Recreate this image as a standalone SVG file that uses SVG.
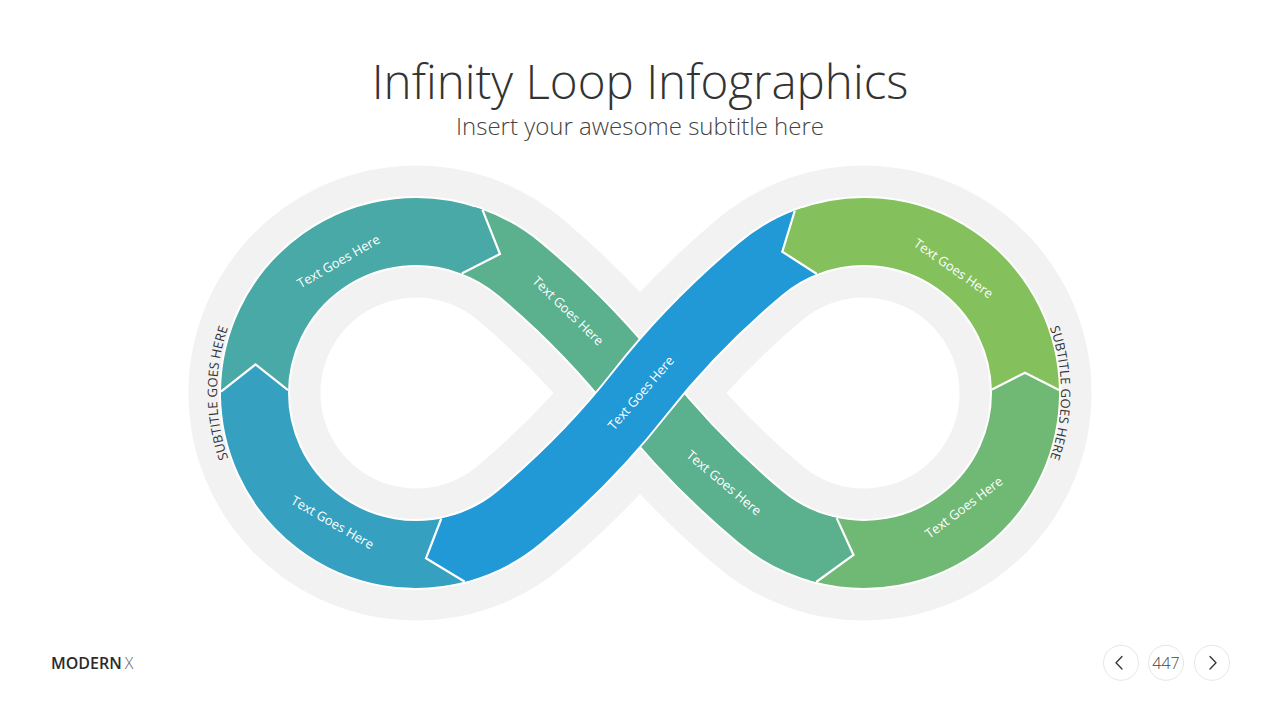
<svg xmlns="http://www.w3.org/2000/svg" width="1280" height="720" viewBox="0 0 1280 720">
<defs>
<style>
.ff{font-family:"Open Sans","Noto Sans","Liberation Sans",sans-serif;}
.lbl{font-family:"Open Sans","Noto Sans","Liberation Sans",sans-serif;font-size:13px;fill:#ffffff;text-anchor:middle;}
.seg{fill:none;stroke-width:67;stroke-linecap:butt;}
.wout{fill:none;stroke:#ffffff;stroke-width:71;stroke-linecap:butt;}
.wline{fill:none;stroke:#ffffff;stroke-width:2.2;stroke-linejoin:miter;}
.sub{font-family:"Open Sans","Noto Sans","Liberation Sans",sans-serif;font-size:13px;fill:#333333;letter-spacing:0.2px;}
.nav{fill:#ffffff;stroke:#e6e6e6;stroke-width:1;}
.chev{fill:none;stroke:#333333;stroke-width:1.3;stroke-linecap:round;stroke-linejoin:round;}
</style>
<path id="loop" d="M 640 393 C 675.1 437.9 716.5 480.0 760.2 516.7 A 161.5 161.5 0 1 0 760.2 269.3 C 716.5 306.0 675.1 348.1 640 393 C 604.9 437.9 563.5 480.0 519.8 516.7 A 161.5 161.5 0 1 1 519.8 269.3 C 563.5 306.0 604.9 348.1 640 393 Z"/>
<path id="arcL" d="M 263.6 520.9 A 199 199 0 0 1 263.6 265.1"/>
<path id="arcR" d="M 1014.9 266.4 A 197 197 0 0 1 1014.9 519.6"/>
</defs>
<rect x="0" y="0" width="1280" height="720" fill="#ffffff"/>

<g id="title">
<text class="ff" x="640" y="99" font-size="47.5" font-weight="300" fill="#333333" text-anchor="middle">Infinity Loop Infographics</text>
<text class="ff" x="640" y="135" font-size="24" font-weight="300" fill="#444444" text-anchor="middle">Insert your awesome subtitle here</text>
</g>

<g id="background-band">
<use href="#loop" fill="none" stroke="#f2f2f2" stroke-width="132"/>
<use href="#loop" class="wout"/>
</g>

<g id="connectors">
<!-- flow order: left-bottom, left-top, green, right-bottom, right-top, blue -->
</g>

<g id="seg-left-bottom">
<path class="seg" stroke="#35a0c0" d="M 457.8 549.0 A 161.5 161.5 0 0 1 254.5 393"/>
</g>
<g id="seg-left-top">
<path class="seg" stroke="#48a9a6" d="M 254.5 393 A 161.5 161.5 0 0 1 469.9 240.8"/>
</g>
<g id="seg-green">
<path class="seg" stroke="#5bb08e" d="M 469.9 240.8 A 161.5 161.5 0 0 1 519.8 269.3 C 563.5 306.0 604.9 348.1 640 393 C 675.1 437.9 716.5 480.0 760.2 516.7 A 161.5 161.5 0 0 0 823.6 549.3"/>
</g>
<g id="seg-right-bottom">
<path class="seg" stroke="#6fb974" d="M 823.6 549.3 A 161.5 161.5 0 0 0 1025.5 391.6"/>
</g>
<g id="seg-right-top">
<path class="seg" stroke="#84c15c" d="M 1025.5 391.6 A 161.5 161.5 0 0 0 807.4 241.7"/>
</g>
<g id="seg-blue">
<path class="wout" d="M 807.4 241.7 A 161.5 161.5 0 0 0 760.2 269.3 C 716.5 306.0 675.1 348.1 640 393 C 604.9 437.9 563.5 480.0 519.8 516.7 A 161.5 161.5 0 0 1 457.8 549.0"/>
<path class="seg" stroke="#2199d6" d="M 807.4 241.7 A 161.5 161.5 0 0 0 760.2 269.3 C 716.5 306.0 675.1 348.1 640 393 C 604.9 437.9 563.5 480.0 519.8 516.7 A 161.5 161.5 0 0 1 457.8 549.0"/>
</g>

<g id="arrowheads">
<polygon fill="#35a0c0" points="288.1,397.5 221.1,399.8 221.0,391.6 255.5,364.5 288.0,390.1"/>
<polyline class="wline" points="221.0,391.6 255.5,364.5 288.0,390.1"/>
<polygon fill="#48a9a6" points="454.5,270.9 474.6,207.0 482.4,209.6 500,254 461.7,273.4"/>
<polyline class="wline" points="482.4,209.6 500,254 461.7,273.4"/>
<polygon fill="#5bb08e" points="827.6,515.7 808.6,580.0 816.2,582.0 853.5,555 836.7,518.1"/>
<polyline class="wline" points="816.2,582.0 853.5,555 836.7,518.1"/>
<polygon fill="#6fb974" points="992.0,396.4 1058.9,398.1 1059.0,389.9 1025,372.7 992.0,389.4"/>
<polyline class="wline" points="1059.0,389.9 1025,372.7 992.0,389.4"/>
<polygon fill="#84c15c" points="823.4,271.6 802.1,208.1 794.8,210.7 782.3,251.7 816.9,274.0"/>
<polyline class="wline" points="794.8,210.7 782.3,251.7 816.9,274.0"/>
<polygon fill="#2199d6" points="453.4,515.4 473.0,579.5 464.8,581.8 426,558.3 441.3,518.5"/>
<polyline class="wline" points="464.8,581.8 426,558.3 441.3,518.5"/>
</g>

<g id="labels">
<text class="lbl" transform="translate(338.5,261.5) rotate(-30)" dy="4.5">Text Goes Here</text>
<text class="lbl" transform="translate(567.5,311.5) rotate(44)" dy="3.7" font-size="10.5">Text Goes Here</text>
<text class="lbl" transform="translate(641,393) rotate(-49)" dy="4.5">Text Goes Here</text>
<text class="lbl" transform="translate(724,483) rotate(40)" dy="4.5">Text Goes Here</text>
<text class="lbl" transform="translate(332.5,522.5) rotate(30)" dy="4.5">Text Goes Here</text>
<text class="lbl" transform="translate(953.5,268.5) rotate(35)" dy="4.5">Text Goes Here</text>
<text class="lbl" transform="translate(964,507.5) rotate(-37)" dy="4.5">Text Goes Here</text>
</g>

<g id="side-subtitles">
<text class="sub"><textPath href="#arcL" startOffset="50%" text-anchor="middle">SUBTITLE GOES HERE</textPath></text>
<text class="sub"><textPath href="#arcR" startOffset="50%" text-anchor="middle">SUBTITLE GOES HERE</textPath></text>
</g>

<g id="footer">
<text class="ff" x="51" y="668.5" font-size="16"><tspan font-weight="600" fill="#2b2b2b">MODERN</tspan><tspan font-weight="300" fill="#666666" dx="3">X</tspan></text>
</g>

<g id="nav">
<circle class="nav" cx="1121" cy="662.8" r="17.5"/>
<circle class="nav" cx="1166" cy="662.8" r="17.5"/>
<circle class="nav" cx="1212" cy="662.8" r="17.5"/>
<polyline class="chev" points="1122,656.5 1116,662.8 1122,669"/>
<polyline class="chev" points="1210,656.5 1216,662.8 1210,669"/>
<text class="ff" x="1166" y="668.5" font-size="16" font-weight="300" fill="#444444" text-anchor="middle">447</text>
</g>
</svg>
